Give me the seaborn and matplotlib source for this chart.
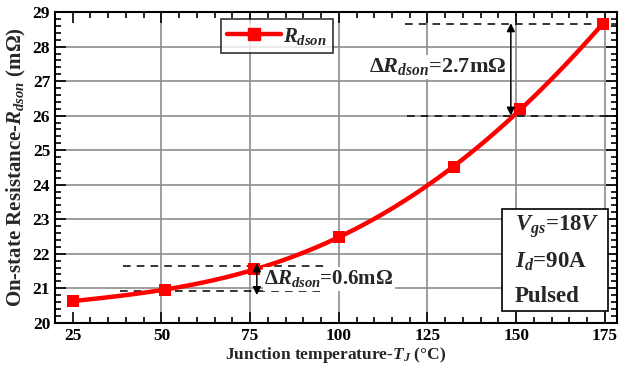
import matplotlib
matplotlib.use("Agg")
import matplotlib.pyplot as plt
import seaborn as sns
import pandas as pd
from matplotlib.lines import Line2D
from matplotlib.patches import Rectangle
from matplotlib.ticker import MultipleLocator

# ---- data ----
temperature = [25, 51, 76, 100, 132.5, 151, 174.5]
rdson = [20.63, 20.95, 21.55, 22.48, 24.52, 26.18, 28.67]
x_ticks = [25, 50, 75, 100, 125, 150, 175]
y_ticks = [20, 21, 22, 23, 24, 25, 26, 27, 28, 29]

df = pd.DataFrame({"T": temperature, "R": rdson})

sns.set_theme(style="ticks")
plt.rcParams["font.family"] = ["Liberation Serif", "DejaVu Serif"]
plt.rcParams["font.weight"] = "bold"
plt.rcParams["mathtext.fontset"] = "custom"
plt.rcParams["mathtext.rm"] = "Liberation Serif:bold"
plt.rcParams["mathtext.it"] = "Liberation Serif:italic:bold"
plt.rcParams["mathtext.bf"] = "Liberation Serif:bold"

fig = plt.figure(figsize=(6.2, 3.68), dpi=100)
ax = fig.add_axes([0.0887, 0.123, 0.9063, 0.844])

RED = "#ff0000"
GRID = "#8c8c8c"

ax.set_xlim(20, 178.4)
ax.set_ylim(20, 29)

# grid lines (major ticks, none at 25)
for v in x_ticks[1:]:
    ax.axvline(v, color=GRID, lw=1.2, zorder=0.5)
for v in y_ticks[1:-1]:
    ax.axhline(v, color=GRID, lw=1.2, zorder=0.5)

sns.regplot(data=df, x="T", y="R", order=4, ci=None, scatter=False, ax=ax,
            line_kws=dict(color=RED, lw=3.2, zorder=4), truncate=True)
sns.scatterplot(data=df, x="T", y="R", marker="s", s=80, color=RED,
                edgecolor=RED, linewidth=0, ax=ax, zorder=5)

ax.set_xlim(20, 178.4)
ax.set_ylim(20, 29)
ax.set_xticks(x_ticks)
ax.set_yticks(y_ticks)
ax.xaxis.set_minor_locator(MultipleLocator(5))
ax.yaxis.set_minor_locator(MultipleLocator(0.2))
ax.tick_params(which="both", direction="in", top=True, right=True,
               labelsize=12.5, width=1.2, colors="black")
ax.tick_params(which="major", length=8)
ax.tick_params(which="minor", length=4)
for lab in ax.get_xticklabels() + ax.get_yticklabels():
    lab.set_fontweight("bold")
for s in ax.spines.values():
    s.set_linewidth(1.5)
    s.set_color("black")
    s.set_visible(True)

ax.set_xlabel(r"Junction temperature-$\mathit{T}_{\mathit{J}}$ (°C)", fontsize=12.5,
              fontweight="bold", labelpad=1)
ax.set_ylabel(r"On-state Resistance-$\mathit{R}_{\mathit{dson}}$ (m$\Omega$)",
              fontsize=15, fontweight="bold", labelpad=3)

# ---- annotations: small delta ----
dash = dict(color="black", lw=1.1, ls=(0, (5, 4)), zorder=3)
ax.plot([39.2, 96.1], [21.64, 21.64], **dash)
ax.plot([38.4, 95.3], [20.93, 20.93], **dash)
ax.annotate("", xy=(76.9, 20.8), xytext=(76.9, 21.72),
            arrowprops=dict(arrowstyle="<|-|>", color="black", lw=1.1,
                            mutation_scale=12, shrinkA=0, shrinkB=0), zorder=6)
ax.text(79, 21.27, r"$\mathit{\Delta R}_{\mathit{dson}}$=0.6m$\Omega$", fontsize=15,
        fontweight="bold", ha="left", va="center", zorder=6,
        bbox=dict(facecolor="white", edgecolor="none", pad=1))

# ---- annotations: large delta ----
ax.plot([118.7, 178.4], [28.67, 28.67], **dash)
ax.plot([119.3, 178.4], [26.0, 26.0], **dash)
ax.annotate("", xy=(148.5, 26.0), xytext=(148.5, 28.68),
            arrowprops=dict(arrowstyle="<|-|>", color="black", lw=1.1,
                            mutation_scale=12, shrinkA=0, shrinkB=0), zorder=6)
ax.text(147.3, 27.42, r"$\mathit{\Delta R}_{\mathit{dson}}$=2.7m$\Omega$", fontsize=16,
        fontweight="bold", ha="right", va="center", zorder=6,
        bbox=dict(facecolor="white", edgecolor="none", pad=1))

# ---- legend ----
handle = Line2D([], [], color=RED, lw=3.2, marker="s", markersize=8.5)
leg = ax.legend([handle], [r"$\mathit{R}_{\mathit{dson}}$"], loc="upper left",
                bbox_to_anchor=(0.295, 0.977), borderaxespad=0, fontsize=15,
                frameon=True, fancybox=False, handlelength=2.6, borderpad=0.3,
                handletextpad=0.1)
leg.get_frame().set_edgecolor("black")
leg.get_frame().set_linewidth(1.2)

# ---- conditions box ----
box = Rectangle((0.795, 0.0386), 0.19, 0.327, transform=ax.transAxes,
                facecolor="white", edgecolor="black", lw=1.2, zorder=7)
ax.add_patch(box)
lines = [r"$\mathit{V}_{\mathit{gs}}$=18$\mathit{V}$",
         r"$\mathit{I}_{\mathit{d}}$=90A", "Pulsed"]
for i, t in enumerate(lines):
    ax.text(0.8185, 0.31 - i * 0.113, t, transform=ax.transAxes, fontsize=16.5,
            fontweight="bold", ha="left", va="center", zorder=8)

fig.savefig("out.png", dpi=100)
